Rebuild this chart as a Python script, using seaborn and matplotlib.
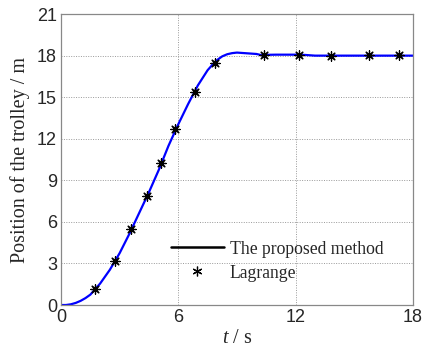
import numpy as np
import pandas as pd
import matplotlib
matplotlib.use("Agg")
import matplotlib.pyplot as plt
import seaborn as sns
from matplotlib.lines import Line2D

# proposed method (continuous curve)
curve_t = [0, 0.25, 0.5, 0.75, 1.0, 1.25, 1.5, 2.0, 2.5, 3.0, 3.5, 4.0, 4.5, 5.0, 5.5,
           6.0, 6.5, 7.0, 7.5, 7.75, 8.0, 8.25, 8.5, 8.75, 9.0, 9.5, 10.0, 10.3, 10.6,
           11.0, 12.0, 12.5, 13.0, 14.0, 15.0, 16.0, 17.0, 18.0]
curve_pos = [0, 0.0, 0.05, 0.15, 0.3, 0.5, 0.75, 1.55, 2.55, 3.75, 5.15, 6.65, 8.15,
             9.75, 11.5, 13.05, 14.5, 15.85, 16.95, 17.35, 17.7, 17.95, 18.1, 18.18,
             18.22, 18.17, 18.12, 18.02, 18.06, 18.07, 18.07, 18.05, 18.0, 18.0,
             18.0, 18.0, 18.0, 18.0]

# Lagrange samples
lag_t = [1.72, 2.75, 3.59, 4.40, 5.10, 5.81, 6.85, 7.86, 10.40, 12.18, 13.80, 15.75, 17.28]
lag_pos = [1.18, 3.15, 5.50, 7.86, 10.22, 12.68, 15.35, 17.44, 18.04, 18.02, 17.97, 18.02, 18.02]

x_ticks = [0, 6, 12, 18]
y_ticks = [0, 3, 6, 9, 12, 15, 18, 21]

sns.set_style("white")
plt.rcParams['font.family'] = ['Liberation Sans', 'DejaVu Sans']
plt.rcParams['mathtext.fontset'] = 'custom'
plt.rcParams['mathtext.it'] = 'Liberation Serif:italic'
plt.rcParams['mathtext.rm'] = 'Liberation Serif'

curve = pd.DataFrame({"t": curve_t, "pos": curve_pos})
lag = pd.DataFrame({"t": lag_t, "pos": lag_pos})

fig = plt.figure(figsize=(4.3, 3.52), dpi=100)
ax = fig.add_axes([0.142, 0.1335, 0.818, 0.8265])

sns.lineplot(data=curve, x="t", y="pos", color="#0000ff", linewidth=1.6, ax=ax)
sns.scatterplot(data=lag, x="t", y="pos", marker=(8, 2, 0), s=45, color="black",
                edgecolor="black", linewidth=0.9, zorder=3, ax=ax)

ax.set_xlim(0, 18)
ax.set_ylim(0, 21)
ax.set_xticks(x_ticks)
ax.set_yticks(y_ticks)
ax.tick_params(labelsize=13, length=0, pad=3)
ax.grid(True, linestyle=(0, (1, 1.5)), color="#999999", linewidth=0.7)
for s in ax.spines.values():
    s.set_color("#888888")
    s.set_linewidth(0.9)

ax.set_xlabel(r"$t$ / s", fontsize=14.5, family="Liberation Serif", labelpad=2)
ax.set_ylabel("Position of the trolley / m", fontsize=14.5, family="Liberation Serif",
              labelpad=5)

handles = [Line2D([], [], color="black", linewidth=1.8),
           Line2D([], [], color="black", linestyle="", marker=(6, 2, 0), markersize=7,
                  markeredgewidth=0.9)]
ax.legend(handles, ["The proposed method", "Lagrange"], loc="lower left",
          bbox_to_anchor=(0.267, 0.026), frameon=False, handlelength=3.0,
          prop={"family": "Liberation Serif", "size": 12.7}, labelspacing=0.4,
          handletextpad=0.35)

fig.savefig("out.png", dpi=100)
